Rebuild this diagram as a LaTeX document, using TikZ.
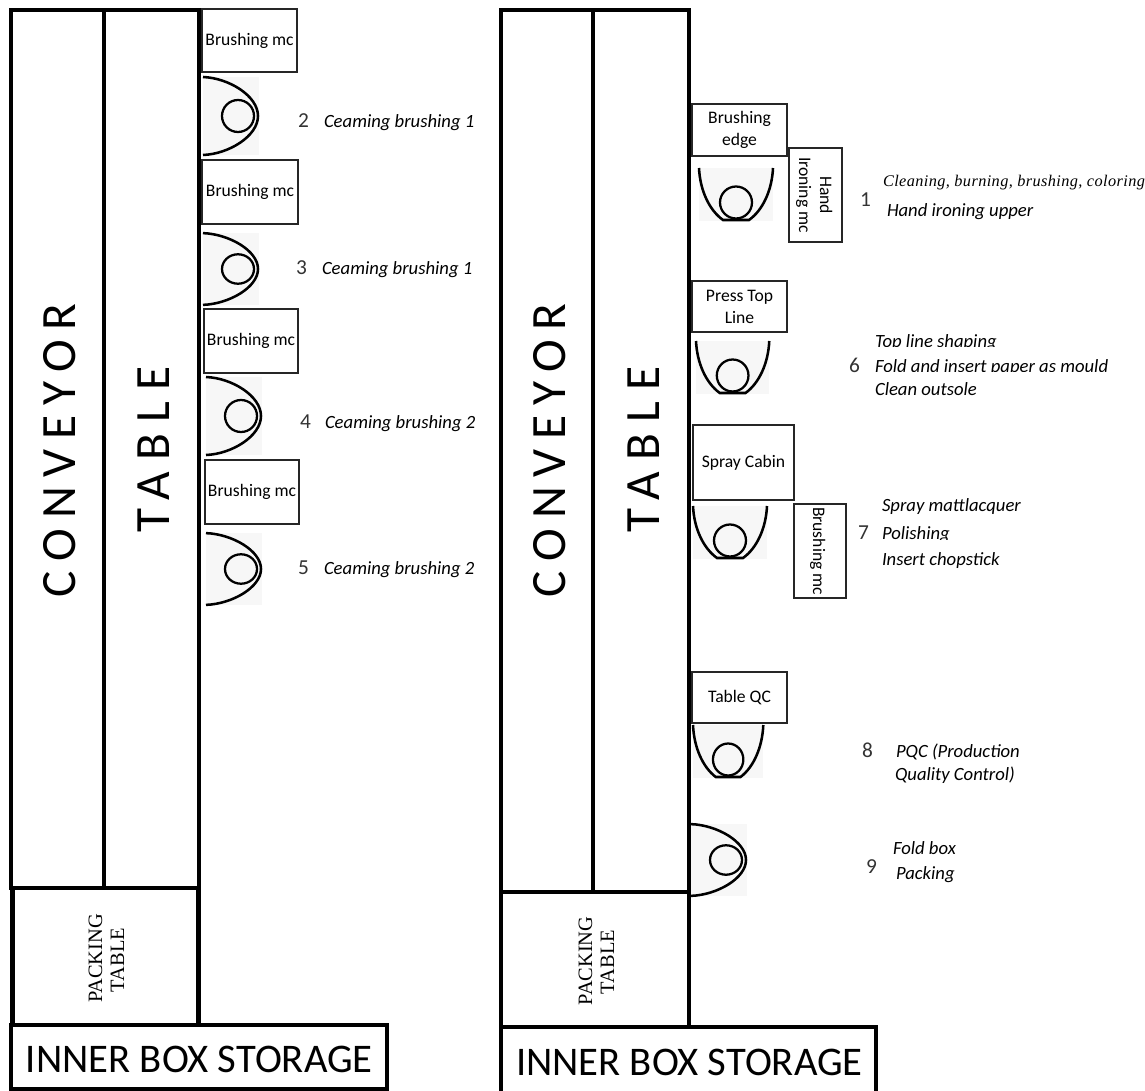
\documentclass[tikz,border=0pt]{standalone}
\usepackage{fontspec}
\setmainfont{Carlito}
\newfontfamily\timesf{Liberation Serif}
\tikzset{
  x=0.75pt,y=-0.75pt,
  wall/.style={draw=black,line width=3.4pt,line join=miter},
  thinwall/.style={draw=black,line width=2.4pt,line join=miter},
  machine/.style n args={2}{draw=black!85,line width=1.1pt,fill=white,inner sep=0pt,outer sep=0pt,
    anchor=north west,minimum width=#1*0.75pt,minimum height=#2*0.75pt,align=center,
    font=\fontsize{13.2}{16.5}\selectfont},
  plain/.style={inner sep=0pt,outer sep=0pt},
  vlabel/.style={plain,rotate=-90,anchor=base,font=\fontsize{13.2}{16.5}\selectfont},
  num/.style={plain,anchor=base west,text=black!80,font=\fontsize{16}{18}\selectfont},
  task/.style={plain,anchor=base west,font=\fontsize{14}{16}\selectfont\itshape},
  big/.style={plain,rotate=90,anchor=base west,font=\fontsize{37}{40}\selectfont\addfontfeature{LetterSpace=20}},
  bigtb/.style={plain,rotate=90,anchor=base west,font=\fontsize{37}{40}\selectfont\addfontfeature{LetterSpace=23}},
  pack/.style={plain,rotate=90,anchor=base,font=\timesf\fontsize{15.3}{16}\selectfont},
  store/.style={plain,anchor=base west,font=\fontsize{30.5}{34}\selectfont},
  sideop/.pic={
    \fill[black!3] (0,-39) rectangle (56,39);
    \draw[line width=1.9pt] (0,-39) .. controls (26,-38) and (55,-20) .. (55,0) .. controls (55,20) and (26,38) .. (0,39);
    \draw[line width=1.7pt] (35,0) circle [radius=16];
  },
  downop/.pic={
    \fill[black!3] (0,0) rectangle (74,53);
    \draw[line width=1.9pt] (0,0) .. controls (1,22) and (10,42) .. (24,52) -- (50,52) .. controls (64,42) and (73,22) .. (74,0);
    \draw[line width=1.7pt] (37,34.5) circle [radius=16];
  },
}
\begin{document}
\begin{tikzpicture}
\useasboundingbox (0,0) rectangle (1145,1091);

% operators, left line
\pic at (203,116) {sideop};
\pic[yscale=0.92] at (203,269) {sideop};
\pic at (206,416) {sideop};
\pic[yscale=0.92] at (206,569) {sideop};
% operators, right line
\pic at (699,168) {downop};
\pic[xscale=0.99] at (696,341) {downop};
\pic at (693,506) {downop};
\pic[xscale=0.95] at (693,725) {downop};
\pic[yscale=0.92] at (691,860) {sideop};

% left line structure
\draw[wall] (11,10) rectangle (199,888);
\draw[wall] (104,10) -- (104,888);
\draw[wall] (12.5,888) rectangle (198.5,1025);
\draw[wall] (11,1025) -- (387,1025) -- (387,1089.5) -- (11,1089.5) -- cycle;

% right line structure
\draw[wall] (501,10) rectangle (689,892);
\draw[wall] (593,10) -- (593,892);
\draw[wall] (501,892) -- (501,1027) -- (689,1027) -- (689,892);
\draw[thinwall] (689,1027) -- (876,1027) -- (876,1091);
\draw[wall] (501,1027) -- (501,1091);

% machines, left
\node[machine={95}{63}] (bm1) at (202,9) {Brushing mc};
\node[machine={96}{64}] (bm2) at (202,160) {Brushing mc};
\node[machine={94}{64}] (bm3) at (204,309) {Brushing mc};
\node[machine={94}{64}] (bm4) at (205,460) {Brushing mc};
% machines, right
\node[machine={95}{52}] (be) at (692,104) {Brushing\\edge};
\node[machine={53}{94}] (hi) at (789,148) {};
\node[machine={95}{51}] (pt) at (692,281) {Press Top\\Line};
\node[machine={101}{75}] (sc) at (693,425) {Spray Cabin};
\node[machine={52}{94}] (bv) at (794,504) {};
\node[machine={95}{51}] (qc) at (692,672) {Table QC};

\node[vlabel] (hand) at (820,195) {Hand};
\node[vlabel] (iron) at (799,195) {Ironing mc};
\begin{scope}
  \clip (795,505) rectangle (845,595);
  \node[plain,rotate=-90,anchor=base west,font=\fontsize{13.2}{16.5}\selectfont] (bvt) at (813,507) {Brushing mc};
\end{scope}

% big labels
\node[big] (conv1) at (75,597) {CONVEYOR};
\node[bigtb] (tab1) at (169,532) {TABLE};
\node[big] (conv2) at (565,597) {CONVEYOR};
\node[bigtb] (tab2) at (659,532) {TABLE};

\node[pack] (pa1) at (102,958.5) {PACKING};
\node[pack] (pb1) at (124,960) {TABLE};
\node[pack] (pa2) at (592,961) {PACKING};
\node[pack] (pb2) at (614,962) {TABLE};

\node[store] (st1) at (26,1072) {INNER BOX STORAGE};
\node[store] (st2) at (516,1075) {INNER BOX STORAGE};

% step labels, left
\node[num] (n2) at (298,128) {2};
\node[task] (t2) at (324,128) {Ceaming brushing 1};
\node[num] (n3) at (296,274) {3};
\node[task] (t3) at (322,274) {Ceaming brushing 1};
\node[num] (n4) at (300,428) {4};
\node[task] (t4) at (325,428) {Ceaming brushing 2};
\node[num] (n5) at (298,574) {5};
\node[task] (t5) at (324,574) {Ceaming brushing 2};

% step labels, right
\node[num] (n1) at (860,207) {1};
\node[plain,anchor=base west,font=\timesf\itshape\fontsize{12.2}{14}\selectfont\addfontfeature{LetterSpace=2.5}] (t1a) at (883,187) {Cleaning, burning, brushing, coloring};
\node[task] (t1b) at (887,217) {Hand ironing upper};

\node[num] (n6) at (849,372) {6};
\begin{scope}
  \clip (870,330) rectangle (1100,346.5);
  \node[task] (t6a) at (875,347) {Top line shaping};
\end{scope}
\begin{scope}
  \clip (870,355) rectangle (1120,371);
  \node[task] (t6b) at (875,372) {Fold and insert paper as mould};
\end{scope}
\node[task] (t6c) at (875,395) {Clean outsole};

\node[num] (n7) at (858,539) {7};
\node[task] (t7a) at (882,511) {Spray mattlacquer};
\begin{scope}
  \clip (878,520) rectangle (1000,539.5);
  \node[task] (t7b) at (882,539) {Polishing};
\end{scope}
\node[task] (t7c) at (882,565) {Insert chopstick};

\node[num] (n8) at (862,757) {8};
\node[task] (t8a) at (896,757) {PQC (Production};
\node[task] (t8b) at (895,780) {Quality Control)};

\node[num] (n9) at (866,873) {9};
\begin{scope}
  \clip (885,835) rectangle (990,854.5);
  \node[task] (t9a) at (893,854) {Fold box};
\end{scope}
\node[task] (t9b) at (896,879) {Packing};
\end{tikzpicture}
\end{document}
